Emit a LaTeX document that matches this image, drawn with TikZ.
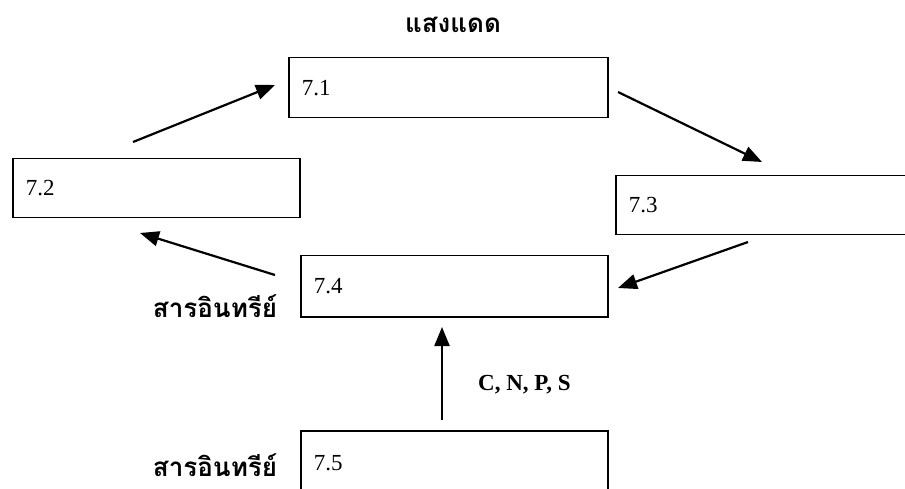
\documentclass[tikz,border=0pt]{standalone}
\usepackage{fontspec}
\setmainfont{Liberation Serif}
\newfontfamily\thaifont[Script=Thai]{Loma}
\usetikzlibrary{arrows.meta}
\tikzset{
  box/.style={draw, line width=1.5pt, anchor=north west, inner xsep=13pt, inner ysep=0pt, align=left, font=\fontsize{23}{26}\selectfont},
  arr/.style={line width=2.2pt, -{Triangle[length=19pt,width=15pt]}},
  thai/.style={font=\thaifont\bfseries\fontsize{26}{30}\selectfont, inner sep=0pt},
}
\begin{document}
\begin{tikzpicture}[x=1pt,y=-1pt]
\useasboundingbox (0,0) rectangle (905,489);
\clip (0,0) rectangle (905,489);
\node[box, text width=293pt, minimum height=60pt] (b1) at (288,57) {7.1};
\node[box, text width=261pt, minimum height=59pt] (b2) at (12,158) {7.2};
\node[box, text width=279pt, minimum height=59pt] (b3) at (615,175) {7.3};
\node[box, text width=281pt, minimum height=61pt] (b4) at (300,255) {7.4};
\node[box, text width=281pt, minimum height=64pt] (b5) at (300,430) {7.5};
\node[thai, anchor=base] (sun) at (453,33) {แสงแดด};
\node[thai, anchor=base] (org1) at (215,317) {สารอินทรีย์};
\node[thai, anchor=base] (org2) at (215,476) {สารอินทรีย์};
\node[font=\bfseries\fontsize{23}{26}\selectfont, anchor=west, inner sep=0pt] (cnps) at (478,385) {C, N, P, S};
\coordinate (p1s) at (133,142); \coordinate (p1e) at (275,85);
\coordinate (p2s) at (618,92);  \coordinate (p2e) at (762,162);
\coordinate (p3s) at (748,242); \coordinate (p3e) at (618,288);
\coordinate (p4s) at (275,275); \coordinate (p4e) at (140,233);
\coordinate (p5s) at (442,420); \coordinate (p5e) at (442,327);
\draw[arr] (p1s) -- (p1e);
\draw[arr] (p2s) -- (p2e);
\draw[arr] (p3s) -- (p3e);
\draw[arr] (p4s) -- (p4e);
\draw[arr] (p5s) -- (p5e);
\end{tikzpicture}
\end{document}
